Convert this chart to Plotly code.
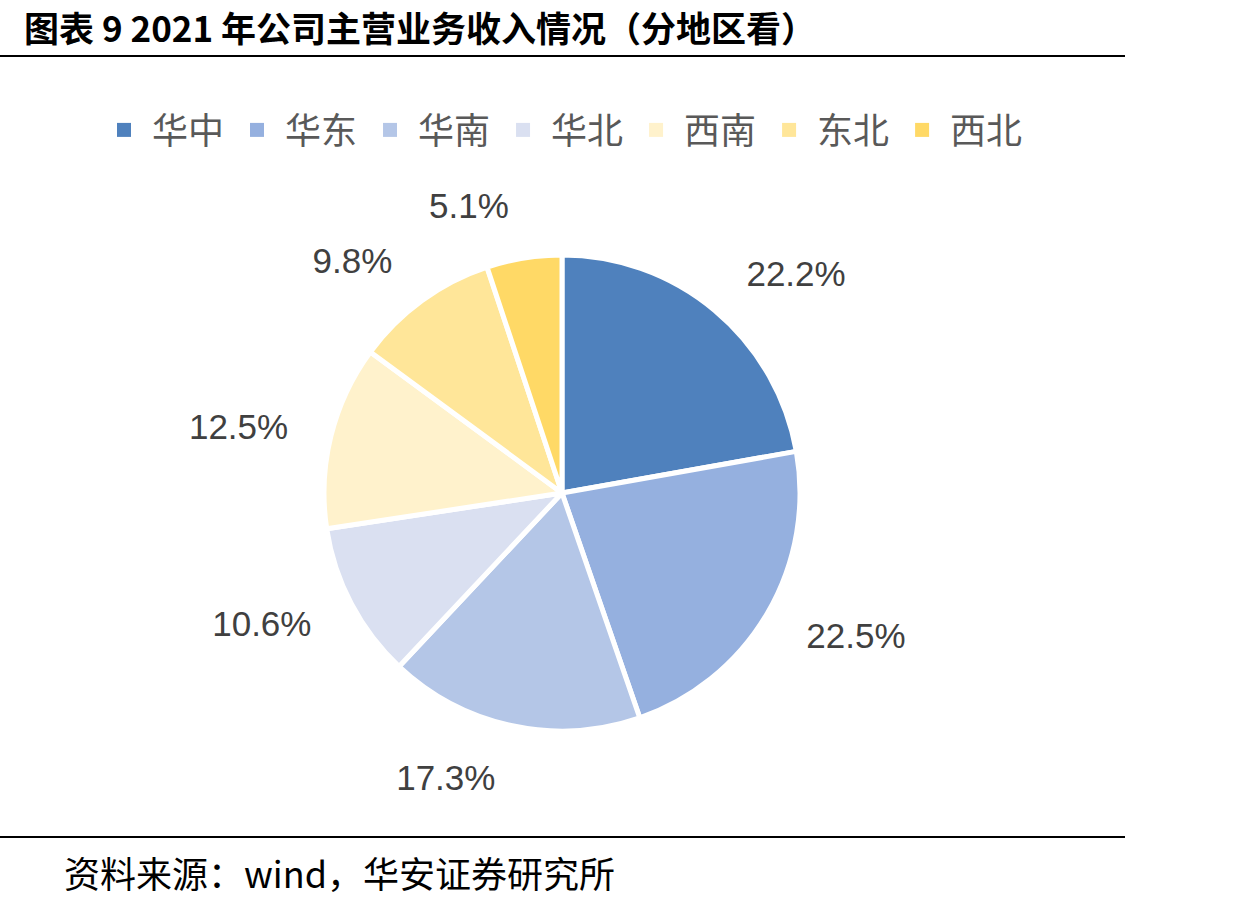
import plotly.graph_objects as go

regions = ["华中", "华东", "华南", "华北", "西南", "东北", "西北"]
shares = [22.2, 22.5, 17.3, 10.6, 12.5, 9.8, 5.1]
colors = ["#4F81BD", "#95B0DF", "#B4C6E7", "#DAE0F1", "#FFF2CC", "#FFE699", "#FFD966"]

W, H = 1260, 905
cx, cy, r = 562, 493, 238
rt = 272

def dom(rad):
    return dict(x=[(cx - rad) / W, (cx + rad) / W], y=[1 - (cy + rad) / H, 1 - (cy - rad) / H])

fig = go.Figure()
fig.add_trace(go.Pie(
    labels=regions, values=shares, sort=False, direction="clockwise", rotation=0,
    marker=dict(colors=colors, line=dict(color="white", width=5)),
    textinfo="none", hoverinfo="label+value", domain=dom(r), showlegend=False,
))
fig.add_trace(go.Pie(
    labels=regions, values=shares, sort=False, direction="clockwise", rotation=0,
    marker=dict(colors=["rgba(0,0,0,0)"] * len(shares), line=dict(width=0)),
    texttemplate="%{value:.1f}%", textposition="outside",
    textfont=dict(family="Liberation Sans, Arial", size=35, color="#404040"),
    hoverinfo="skip", domain=dom(rt), showlegend=False,
))
# legend entries (square swatches)
for name, c in zip(regions, colors):
    fig.add_trace(go.Scatter(
        x=[None], y=[None], mode="markers", name=name, showlegend=True,
        marker=dict(symbol="square", size=14, color=c),
    ))

fig.update_layout(
    width=W, height=H,
    margin=dict(l=0, r=0, t=0, b=0),
    paper_bgcolor="white", plot_bgcolor="white",
    xaxis=dict(visible=False), yaxis=dict(visible=False),
    legend=dict(orientation="h", x=562 / W, xanchor="center", y=1 - 130 / H, yanchor="middle",
                font=dict(family="Noto Sans CJK SC", size=36, color="#595959"),
                itemwidth=46, traceorder="normal"),
    shapes=[
        dict(type="line", xref="paper", yref="paper", x0=0, x1=1125 / W, y0=1 - 56 / H, y1=1 - 56 / H,
             line=dict(color="black", width=2)),
        dict(type="line", xref="paper", yref="paper", x0=0, x1=1125 / W, y0=1 - 837 / H, y1=1 - 837 / H,
             line=dict(color="black", width=2)),
    ],
    annotations=[
        dict(text="<b>图表 9 2021 年公司主营业务收入情况（分地区看）</b>", xref="paper", yref="paper",
             x=22 / W, y=1 - 27 / H, xanchor="left", yanchor="middle", showarrow=False,
             font=dict(family="Noto Sans CJK SC", size=35, color="black")),
        dict(text="资料来源：wind，华安证券研究所", xref="paper", yref="paper",
             x=62 / W, y=1 - 872 / H, xanchor="left", yanchor="middle", showarrow=False,
             font=dict(family="Noto Sans CJK SC", size=36, color="black")),
    ],
)

fig.write_html("out.html")
